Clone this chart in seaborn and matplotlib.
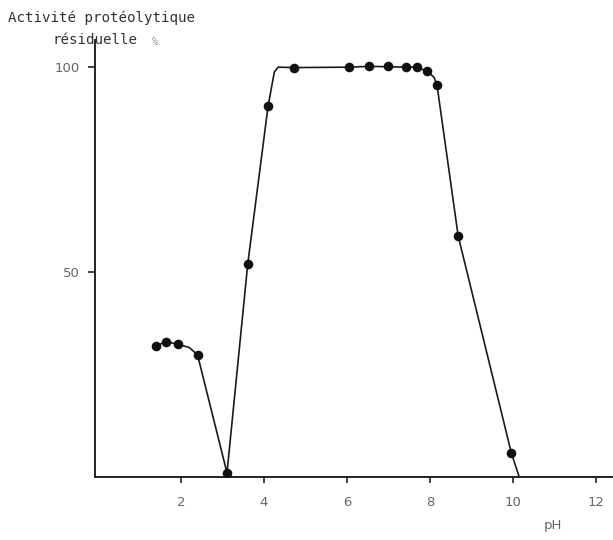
import matplotlib
matplotlib.use("Agg")
import matplotlib.pyplot as plt
import numpy as np
import pandas as pd
import seaborn as sns

# measured points (pH, residual activity %)
ph = [1.39, 1.65, 1.92, 2.40, 3.11, 3.61, 4.10, 4.72, 6.05, 6.53, 6.99, 7.43, 7.69, 7.93, 8.17, 8.68, 9.96]
act = [32.0, 33.0, 32.4, 29.8, 1.0, 52.0, 90.5, 99.8, 100.0, 100.4, 100.2, 100.0, 100.0, 99.0, 95.6, 58.8, 5.9]

# hand-drawn curve knots
curve_ph = [1.39, 1.65, 1.92, 2.20, 2.40, 3.11, 3.61, 4.10, 4.25, 4.34, 4.72, 6.05, 6.53, 6.99,
            7.43, 7.69, 7.93, 8.10, 8.17, 8.68, 9.96, 10.15]
curve_act = [32.0, 33.0, 32.4, 31.6, 29.8, 1.0, 52.0, 90.5, 98.8, 100.0, 99.9, 100.0, 100.2, 100.1,
             100.0, 100.0, 99.0, 97.5, 95.6, 58.8, 5.9, 0.0]

xticks = [2, 4, 6, 8, 10, 12]
yticks = [50, 100]

pts = pd.DataFrame({"pH": ph, "act": act})
curve = pd.DataFrame({"pH": curve_ph, "act": curve_act})

sns.set_style("ticks")
plt.rcParams['font.family'] = ['DejaVu Sans', 'Noto Sans']

fig = plt.figure(figsize=(6.13, 5.4), dpi=100)
ax = fig.add_axes([0.155, 0.1167, 0.845, 0.809])

sns.lineplot(x="pH", y="act", data=curve, color="#1a1a1a", linewidth=1.2, sort=False, ax=ax)
sns.scatterplot(x="pH", y="act", data=pts, color="#111111", s=48, edgecolor="#111111", linewidth=0, ax=ax, zorder=3)

ax.set_xlim(-0.07, 12.41)
ax.set_ylim(0, 106.6)
ax.set_xticks(xticks)
ax.set_yticks(yticks)
ax.set_xticklabels([str(t) for t in xticks])
ax.set_yticklabels([str(t) for t in yticks])
ax.tick_params(axis="both", labelsize=9.5, labelcolor="#666666", color="#222222", width=1.2, length=5, direction="out")
ax.tick_params(axis="x", length=4, pad=10)
ax.tick_params(axis="y", pad=6)
for s in ["top", "right"]:
    ax.spines[s].set_visible(False)
for s in ["left", "bottom"]:
    ax.spines[s].set_color("#222222")
    ax.spines[s].set_linewidth(1.4)
ax.set_xlabel("")
ax.set_ylabel("")

fig.text(101 / 613, 1 - 18 / 540, "Activité protéolytique", family="DejaVu Sans Mono",
         fontsize=10.2, color="#333333", ha="center", va="center")
fig.text(95 / 613, 1 - 40 / 540, "résiduelle", family="DejaVu Sans Mono",
         fontsize=10.2, color="#333333", ha="center", va="center")
fig.text(155 / 613, 1 - 42 / 540, "%", family="DejaVu Sans Mono",
         fontsize=8, color="#999999", ha="center", va="center")
fig.text(553 / 613, 1 - 525 / 540, "pH", fontsize=9.5, color="#666666", ha="center", va="center")

fig.savefig("out.png", dpi=100)
